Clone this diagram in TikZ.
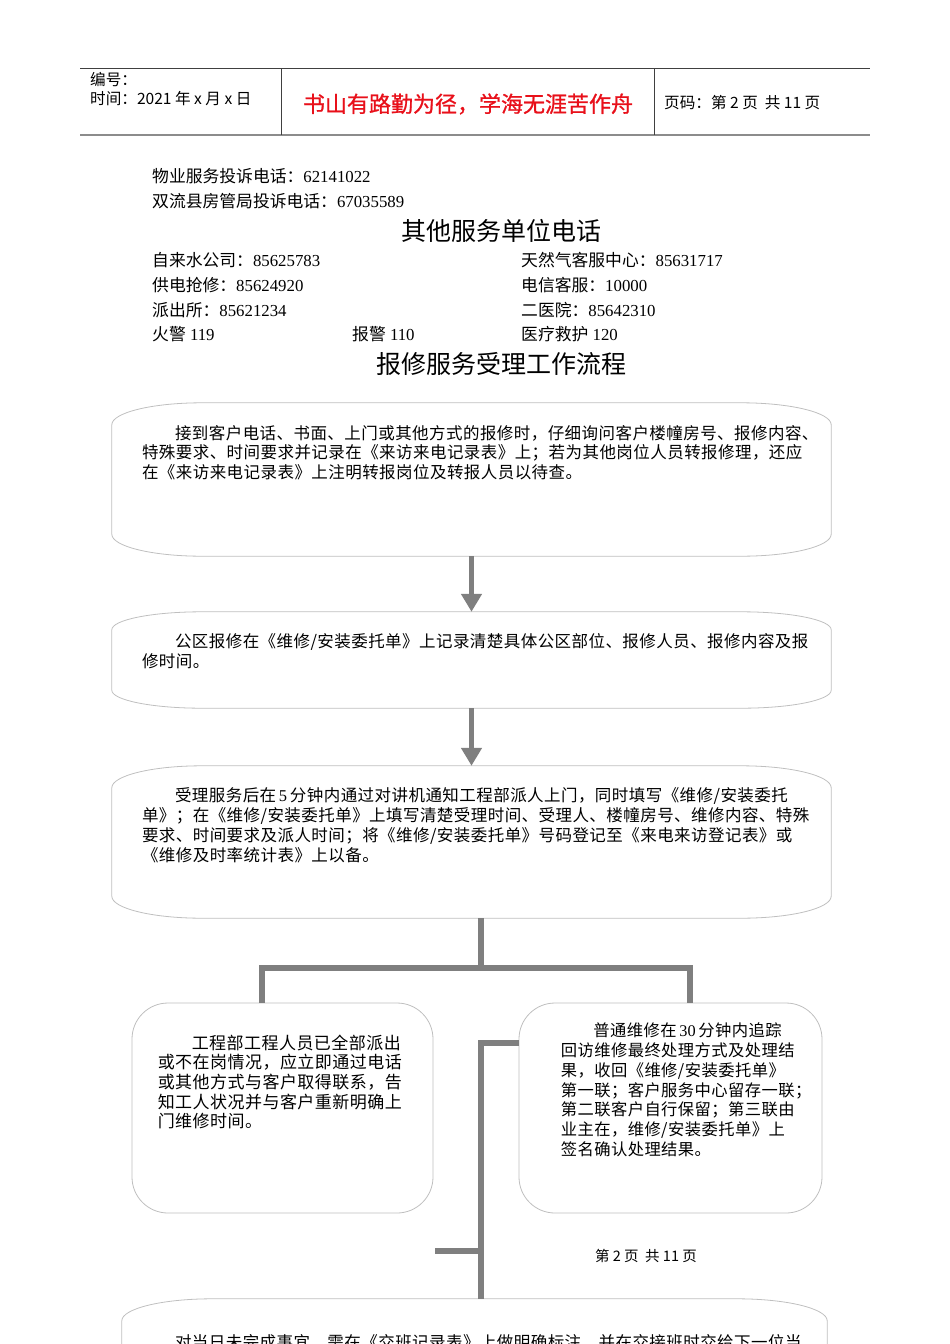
\documentclass[tikz,border=0pt]{standalone}
\usepackage{fontspec}
\setmainfont{Liberation Serif}
\newfontfamily\hei{Noto Sans CJK SC}
\newfontfamily\heibold[FakeBold=1]{Noto Sans CJK SC}
\newfontfamily\zhbody[LetterSpace=2.7]{Noto Sans CJK SC}
\usetikzlibrary{arrows.meta,positioning}
\definecolor{pipegray}{HTML}{7F7F7F}
\definecolor{linegray}{HTML}{BFBFBF}
\definecolor{rulegray}{HTML}{8C8C8C}
\definecolor{mottored}{HTML}{E8101A}
\newcommand{\softframe}[3]{%
  \draw[boxline] ([yshift=-#3]#1.north west)
    arc[start angle=180, end angle=90, x radius=#2, y radius=#3]
    -- ([xshift=-#2]#1.north east)
    arc[start angle=90, end angle=0, x radius=#2, y radius=#3]
    -- ([yshift=#3]#1.south east)
    arc[start angle=0, end angle=-90, x radius=#2, y radius=#3]
    -- ([xshift=#2]#1.south west)
    arc[start angle=270, end angle=180, x radius=#2, y radius=#3]
    -- cycle;}

\begin{document}
\begin{tikzpicture}[
    x=1pt, y=-1pt,
    hd/.style={anchor=west, inner sep=0pt, font=\hei\fontsize{15.6}{17}\selectfont},
    tag/.style={anchor=west, inner sep=0pt, font=\hei\fontsize{16.8}{19}\selectfont},
    ttl/.style={inner sep=0pt, font=\hei\fontsize{25}{28}\selectfont},
    box/.style={inner sep=0pt},
    roundbox/.style={inner sep=0pt, draw=linegray, line width=0.8pt, rounded corners=36pt},
    para/.style={inner sep=0pt, text width=700pt, align=left,
      font=\zhbody\fontsize{16.5}{19.8}\selectfont},
    boxline/.style={draw=linegray, line width=0.8pt},
    pipe/.style={draw=pipegray, line width=6pt},
    arr/.style={draw=pipegray, line width=5pt, -{Triangle[width=20pt, length=18pt]}},
  ]
  \useasboundingbox (0,0) rectangle (950,1344);
  \clip (0,0) rectangle (950,1344);

  % header
  \draw[draw=black!75, line width=1pt] (80,68) -- (870,68);
  \draw[draw=rulegray, line width=2.5pt] (80,135) -- (870,135);
  \draw[draw=black!75, line width=0.8pt] (281,68) -- (281,135) (654,68) -- (654,135);
  \node[hd] (code) at (90,80) {编号：};
  \node[hd] (date) at (90,99) {时间：2021 年 x 月 x 日};
  \node[inner sep=0pt, text=mottored, font=\heibold\fontsize{22}{24}\selectfont] (motto) at (468,104) {书山有路勤为径，学海无涯苦作舟};
  \node[hd] (pageno) at (664,103) {页码：第 2 页\ \ 共 11 页};

  % phone numbers
  \node[tag] (wuye) at (152,176) {物业服务投诉电话：\rmfamily 62141022};
  \node[tag] (fgj) at (152,201) {双流县房管局投诉电话：\rmfamily 67035589};
  \node[ttl] (other) at (501,231) {其他服务单位电话};
  \node[tag] (water) at (152,260) {自来水公司：\rmfamily 85625783};
  \node[tag] (gas) at (521,260) {天然气客服中心：\rmfamily 85631717};
  \node[tag] (power) at (152,285) {供电抢修：\rmfamily 85624920};
  \node[tag] (tel) at (521,285) {电信客服：\rmfamily 10000};
  \node[tag] (police) at (152,310) {派出所：\rmfamily 85621234};
  \node[tag] (hosp) at (521,310) {二医院：\rmfamily 85642310};
  \node[tag] (fire) at (152,334) {火警\rmfamily\ 119};
  \node[tag] (alarm) at (352,334) {报警\rmfamily\ 110};
  \node[tag] (aid) at (521,334) {医疗救护\rmfamily\ 120};
  \node[ttl] (flow) at (501,364) {报修服务受理工作流程};

  % flow boxes
  \node[box, minimum width=719pt, minimum height=153pt] (acc) at (471.5,479.5) {};
  \node[box, minimum width=719pt, minimum height=96pt] (pub) at (471.5,660) {};
  \node[box, minimum width=719pt, minimum height=152pt] (disp) at (471.5,842) {};
  \node[roundbox, minimum width=301pt, minimum height=210pt] (busy) at (282.5,1108) {};
  \node[roundbox, minimum width=303pt, minimum height=210pt] (norm) at (670.5,1108) {};
  \node[box, minimum width=705pt, minimum height=150pt] (hand) at (474.5,1374) {};
  \softframe{acc}{90pt}{22pt}
  \softframe{pub}{90pt}{18pt}
  \softframe{disp}{90pt}{22pt}
  \softframe{hand}{90pt}{22pt}

  \node[para, below right=22pt and 30pt of acc.north west] (acctext) {%
    \hspace*{2em}接到客户电话、书面、上门或其他方式的报修时，仔细询问客户楼幢房号、报修内容、\\
    特殊要求、时间要求并记录在《来访来电记录表》上；若为其他岗位人员转报修理，还应\\
    在《来访来电记录表》上注明转报岗位及转报人员以待查。};
  \node[para, below right=22pt and 30pt of pub.north west] (pubtext) {%
    \hspace*{2em}公区报修在《维修/安装委托单》上记录清楚具体公区部位、报修人员、报修内容及报\\
    修时间。};
  \node[para, below right=22pt and 30pt of disp.north west] (disptext) {%
    \hspace*{2em}受理服务后在\,{\rmfamily 5}\,分钟内通过对讲机通知工程部派人上门，同时填写《维修/安装委托\\
    单》；在《维修/安装委托单》上填写清楚受理时间、受理人、楼幢房号、维修内容、特殊\\
    要求、时间要求及派人时间；将《维修/安装委托单》号码登记至《来电来访登记表》或\\
    《维修及时率统计表》上以备。};
  \node[para, text width=275pt, font=\zhbody\fontsize{17}{19.6}\selectfont,
    below right=32pt and 26pt of busy.north west] (busytext) {%
    \hspace*{2em}工程部工程人员已全部派出\\
    或不在岗情况，应立即通过电话\\
    或其他方式与客户取得联系，告\\
    知工人状况并与客户重新明确上\\
    门维修时间。};
  \node[para, text width=275pt, font=\zhbody\fontsize{16.3}{19.8}\selectfont,
    below right=20pt and 42pt of norm.north west] (normtext) {%
    \hspace*{2em}普通维修在\,{\rmfamily 30}\,分钟内追踪\\
    回访维修最终处理方式及处理结\\
    果，收回《维修/安装委托单》\\
    第一联；客户服务中心留存一联；\\
    第二联客户自行保留；第三联由\\
    业主在，维修/安装委托单》上\\
    签名确认处理结果。};
  \node[para, below right=35pt and 20pt of hand.north west] (handtext) {%
    \hspace*{2em}对当日未完成事宜，需在《交班记录表》上做明确标注，并在交接班时交给下一位当};

  \node[inner sep=0pt, font=\hei\fontsize{14.5}{16}\selectfont] (folio) at (646,1256) {第\ 2\ 页\ \ 共\ 11\ 页};

  % connectors
  \draw[arr] (acc) -- (pub);
  \draw[arr] (pub) -- (disp);
  \coordinate (fork) at (481,968);
  \draw[pipe] (disp.south -| fork) -- (fork);
  \draw[pipe] ([xshift=-21pt]busy.north) |- (fork) -| ([xshift=19.5pt]norm.north);
  \coordinate (merge) at (481,1043);
  \draw[pipe] (merge -| norm.west) -- (merge) -- (merge |- hand.north);
  \coordinate (stub) at (435,1251);
  \draw[pipe] (stub) -- (stub -| merge);
\end{tikzpicture}
\end{document}
